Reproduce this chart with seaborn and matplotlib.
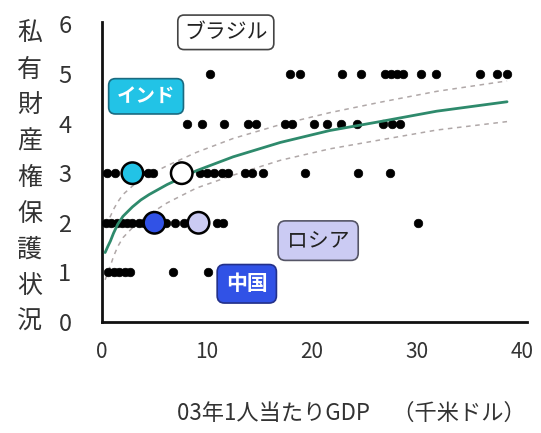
import numpy as np
import pandas as pd
import seaborn as sns
import matplotlib.pyplot as plt

# per-capita GDP (thousand USD) of countries, grouped by property-rights score
row5 = [10.3, 17.9, 18.9, 22.9, 24.7, 27.0, 27.5, 28.1, 28.7, 30.4, 31.8, 36.0, 37.6, 38.6]
row4 = [8.1, 9.5, 11.6, 13.9, 14.7, 17.4, 18.1, 20.2, 21.4, 22.8, 24.3, 26.8, 27.6, 28.4]
row3 = [0.5, 1.2, 2.2, 3.6, 4.4, 4.9, 9.3, 10.0, 10.7, 11.4, 12.0, 13.6, 14.3, 15.3, 19.3, 24.4, 27.4]
row2 = [0.4, 0.9, 1.4, 1.9, 2.4, 2.9, 3.5, 4.0, 6.1, 7.0, 7.8, 11.0, 11.5, 30.1]
row1 = [0.6, 1.1, 1.6, 2.2, 2.7, 6.8, 10.1]

# highlighted countries
hl_names = ['インド', 'ブラジル', '中国', 'ロシア']
hl_gdp = [2.9, 7.6, 5.0, 9.2]
hl_score = [3, 3, 2, 2]
hl_colors = ['#22c3e6', '#ffffff', '#3152e6', '#cbcbf3']

# trend curve and its band
trend_x = [0.3, 0.55, 0.8, 1.1, 1.5, 2.0, 2.9, 3.7, 4.5, 6.2, 9.0, 12.5, 17.0, 21.7, 26.5, 31.9, 38.6]
trend_y = [1.40, 1.52, 1.63, 1.79, 1.97, 2.13, 2.32, 2.46, 2.57, 2.77, 3.05, 3.33, 3.62, 3.86, 4.04, 4.25, 4.44]
upper_y = [1.95, 2.04, 2.13, 2.27, 2.42, 2.57, 2.74, 2.87, 2.97, 3.15, 3.42, 3.70, 3.98, 4.22, 4.43, 4.65, 4.86]
lower_y = [0.85, 1.00, 1.13, 1.32, 1.52, 1.70, 1.90, 2.05, 2.17, 2.40, 2.70, 2.96, 3.26, 3.49, 3.67, 3.87, 4.04]

dots = pd.DataFrame({
    'gdp': row5 + row4 + row3 + row2 + row1,
    'score': [5] * len(row5) + [4] * len(row4) + [3] * len(row3) + [2] * len(row2) + [1] * len(row1),
})
hl = pd.DataFrame({'name': hl_names, 'gdp': hl_gdp, 'score': hl_score})
trend = pd.DataFrame({'x': trend_x, 'y': trend_y, 'up': upper_y, 'lo': lower_y})

sns.set_style('white')
plt.rcParams['font.family'] = ['Noto Sans CJK JP', 'DejaVu Sans']

fig = plt.figure(figsize=(5.41, 4.33), dpi=100)
ax = fig.add_axes([0.1885, 0.2564, 0.7856, 0.693])

sns.lineplot(data=trend, x='x', y='up', ax=ax, color='#b0a8a8', lw=1.1, linestyle=(0, (3, 3)))
sns.lineplot(data=trend, x='x', y='lo', ax=ax, color='#b0a8a8', lw=1.1, linestyle=(0, (3, 3)))
sns.scatterplot(data=dots, x='gdp', y='score', ax=ax, color='black', s=38, edgecolor='black', zorder=3)
sns.lineplot(data=trend, x='x', y='y', ax=ax, color='#2e8a6c', lw=2, zorder=4)
sns.scatterplot(data=hl, x='gdp', y='score', hue='name', palette=dict(zip(hl_names, hl_colors)),
                ax=ax, s=240, edgecolor='black', linewidth=1.8, legend=False, zorder=5)

# country labels
box = dict(boxstyle='round,pad=0.42,rounding_size=0.35', lw=1.2)
ax.text(11.8, 5.84, 'ブラジル', fontsize=15, color='#222222', ha='center', va='center',
        bbox=dict(box, fc='white', ec='#444444', boxstyle='round,pad=0.3,rounding_size=0.3'))
ax.text(4.2, 4.55, 'インド', fontsize=14, color='white', ha='center', va='center', fontweight='bold',
        bbox=dict(box, fc='#22c3e6', ec='#1a6a80'))
ax.text(13.8, 0.77, '中国', fontsize=15, color='white', ha='center', va='center', fontweight='bold',
        bbox=dict(box, fc='#3152e6', ec='#23308a'))
ax.text(20.6, 1.64, 'ロシア', fontsize=15, color='#222222', ha='center', va='center',
        bbox=dict(box, fc='#cbcbf3', ec='#555566'))

ax.set_xlim(0, 40.5)
ax.set_ylim(0, 6.05)
ax.set_xticks([0, 10, 20, 30, 40])
ax.set_yticks([0, 1, 2, 3, 4, 5, 6])
ax.tick_params(axis='both', length=0, colors='#333333')
ax.tick_params(axis='x', labelsize=15, pad=14)
ax.tick_params(axis='y', labelsize=17, pad=22)
ax.set_xlabel('')
ax.set_ylabel('')
for side in ['top', 'right']:
    ax.spines[side].set_visible(False)
for side in ['left', 'bottom']:
    ax.spines[side].set_color('#111111')
    ax.spines[side].set_linewidth(2)

fig.text(0.055, 0.59, '\n'.join('私有財産権保護状況'), fontsize=18, color='#333333',
         ha='center', va='center', linespacing=1.5)
fig.text(0.649, 0.046, '03年1人当たりGDP　（千米ドル）', fontsize=16, color='#333333',
         ha='center', va='center')

fig.savefig('out.png', dpi=100)
